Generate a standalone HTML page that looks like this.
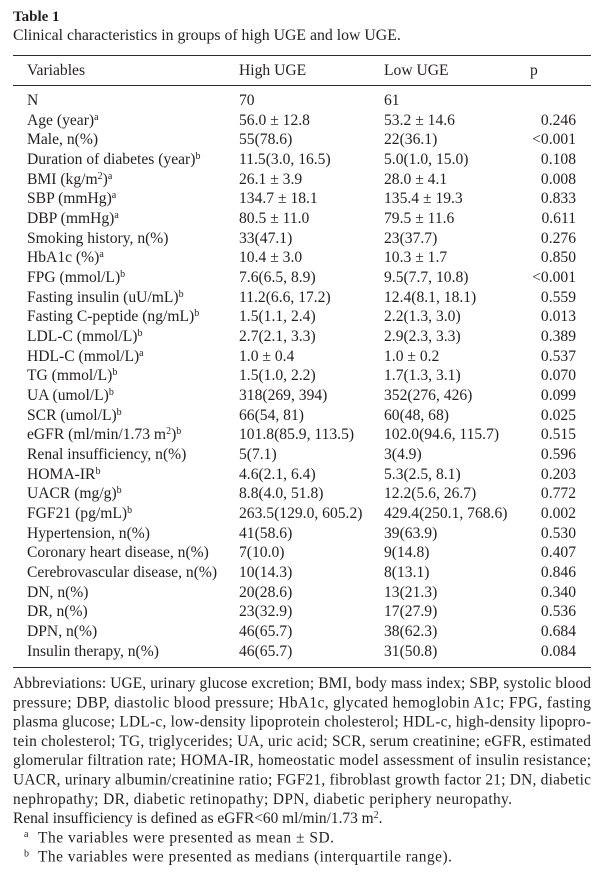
<!DOCTYPE html>
<html>
<head>
<meta charset="utf-8">
<style>
  html, body { margin:0; padding:0; background:#ffffff; }
  body { width:603px; height:878px; position:relative; overflow:hidden;
         font-family:"Liberation Serif", "DejaVu Serif", serif; color:#231f20; }
  .abs { position:absolute; white-space:nowrap; }
  .title { left:13px; top:7.4px; font-size:15px; font-weight:bold; line-height:20px; }
  .caption { left:13px; top:25.7px; font-size:15.8px; line-height:20px; }
  .rule { position:absolute; left:13px; width:578px; height:1.4px; background:#2b2b2b; }
  .hdr { top:60.7px; font-size:15.6px; line-height:20px; }
  .rows { position:absolute; left:0; top:90.9px; width:603px; }
  .row { position:relative; height:19.68px; line-height:19.68px; font-size:15.6px; white-space:nowrap; }
  .row span { position:absolute; top:0; }
  .c1 { left:27px; }
  .c2 { left:239px; }
  .c3 { left:384px; }
  .c4 { right:27px; text-align:right; }
  sup { font-size:10px; line-height:0; vertical-align:5px; }
  svg { position:absolute; left:0; top:0; }
  svg text { font-family:"Liberation Serif", "DejaVu Serif", serif; font-size:15.4px; fill:#231f20; }
</style>
</head>
<body>
<div class="abs title">Table 1</div>
<div class="abs caption">Clinical characteristics in groups of high UGE and low UGE.</div>

<div class="rule" style="top:54.5px;"></div>
<div class="abs hdr" style="left:27px;">Variables</div>
<div class="abs hdr" style="left:239px;">High UGE</div>
<div class="abs hdr" style="left:384px;">Low UGE</div>
<div class="abs hdr" style="left:530px;">p</div>
<div class="rule" style="top:84.5px;"></div>

<div class="rows">
  <div class="row"><span class="c1">N</span><span class="c2">70</span><span class="c3">61</span></div>
  <div class="row"><span class="c1">Age (year)<sup>a</sup></span><span class="c2">56.0 ± 12.8</span><span class="c3">53.2 ± 14.6</span><span class="c4">0.246</span></div>
  <div class="row"><span class="c1">Male, n(%)</span><span class="c2">55(78.6)</span><span class="c3">22(36.1)</span><span class="c4">&lt;0.001</span></div>
  <div class="row"><span class="c1">Duration of diabetes (year)<sup>b</sup></span><span class="c2">11.5(3.0, 16.5)</span><span class="c3">5.0(1.0, 15.0)</span><span class="c4">0.108</span></div>
  <div class="row"><span class="c1">BMI (kg/m<sup>2</sup>)<sup>a</sup></span><span class="c2">26.1 ± 3.9</span><span class="c3">28.0 ± 4.1</span><span class="c4">0.008</span></div>
  <div class="row"><span class="c1">SBP (mmHg)<sup>a</sup></span><span class="c2">134.7 ± 18.1</span><span class="c3">135.4 ± 19.3</span><span class="c4">0.833</span></div>
  <div class="row"><span class="c1">DBP (mmHg)<sup>a</sup></span><span class="c2">80.5 ± 11.0</span><span class="c3">79.5 ± 11.6</span><span class="c4">0.611</span></div>
  <div class="row"><span class="c1">Smoking history, n(%)</span><span class="c2">33(47.1)</span><span class="c3">23(37.7)</span><span class="c4">0.276</span></div>
  <div class="row"><span class="c1">HbA1c (%)<sup>a</sup></span><span class="c2">10.4 ± 3.0</span><span class="c3">10.3 ± 1.7</span><span class="c4">0.850</span></div>
  <div class="row"><span class="c1">FPG (mmol/L)<sup>b</sup></span><span class="c2">7.6(6.5, 8.9)</span><span class="c3">9.5(7.7, 10.8)</span><span class="c4">&lt;0.001</span></div>
  <div class="row"><span class="c1">Fasting insulin (uU/mL)<sup>b</sup></span><span class="c2">11.2(6.6, 17.2)</span><span class="c3">12.4(8.1, 18.1)</span><span class="c4">0.559</span></div>
  <div class="row"><span class="c1">Fasting C-peptide (ng/mL)<sup>b</sup></span><span class="c2">1.5(1.1, 2.4)</span><span class="c3">2.2(1.3, 3.0)</span><span class="c4">0.013</span></div>
  <div class="row"><span class="c1">LDL-C (mmol/L)<sup>b</sup></span><span class="c2">2.7(2.1, 3.3)</span><span class="c3">2.9(2.3, 3.3)</span><span class="c4">0.389</span></div>
  <div class="row"><span class="c1">HDL-C (mmol/L)<sup>a</sup></span><span class="c2">1.0 ± 0.4</span><span class="c3">1.0 ± 0.2</span><span class="c4">0.537</span></div>
  <div class="row"><span class="c1">TG (mmol/L)<sup>b</sup></span><span class="c2">1.5(1.0, 2.2)</span><span class="c3">1.7(1.3, 3.1)</span><span class="c4">0.070</span></div>
  <div class="row"><span class="c1">UA (umol/L)<sup>b</sup></span><span class="c2">318(269, 394)</span><span class="c3">352(276, 426)</span><span class="c4">0.099</span></div>
  <div class="row"><span class="c1">SCR (umol/L)<sup>b</sup></span><span class="c2">66(54, 81)</span><span class="c3">60(48, 68)</span><span class="c4">0.025</span></div>
  <div class="row"><span class="c1">eGFR (ml/min/1.73 m<sup>2</sup>)<sup>b</sup></span><span class="c2">101.8(85.9, 113.5)</span><span class="c3">102.0(94.6, 115.7)</span><span class="c4">0.515</span></div>
  <div class="row"><span class="c1">Renal insufficiency, n(%)</span><span class="c2">5(7.1)</span><span class="c3">3(4.9)</span><span class="c4">0.596</span></div>
  <div class="row"><span class="c1">HOMA-IR<sup>b</sup></span><span class="c2">4.6(2.1, 6.4)</span><span class="c3">5.3(2.5, 8.1)</span><span class="c4">0.203</span></div>
  <div class="row"><span class="c1">UACR (mg/g)<sup>b</sup></span><span class="c2">8.8(4.0, 51.8)</span><span class="c3">12.2(5.6, 26.7)</span><span class="c4">0.772</span></div>
  <div class="row"><span class="c1">FGF21 (pg/mL)<sup>b</sup></span><span class="c2">263.5(129.0, 605.2)</span><span class="c3">429.4(250.1, 768.6)</span><span class="c4">0.002</span></div>
  <div class="row"><span class="c1">Hypertension, n(%)</span><span class="c2">41(58.6)</span><span class="c3">39(63.9)</span><span class="c4">0.530</span></div>
  <div class="row"><span class="c1">Coronary heart disease, n(%)</span><span class="c2">7(10.0)</span><span class="c3">9(14.8)</span><span class="c4">0.407</span></div>
  <div class="row"><span class="c1">Cerebrovascular disease, n(%)</span><span class="c2">10(14.3)</span><span class="c3">8(13.1)</span><span class="c4">0.846</span></div>
  <div class="row"><span class="c1">DN, n(%)</span><span class="c2">20(28.6)</span><span class="c3">13(21.3)</span><span class="c4">0.340</span></div>
  <div class="row"><span class="c1">DR, n(%)</span><span class="c2">23(32.9)</span><span class="c3">17(27.9)</span><span class="c4">0.536</span></div>
  <div class="row"><span class="c1">DPN, n(%)</span><span class="c2">46(65.7)</span><span class="c3">38(62.3)</span><span class="c4">0.684</span></div>
  <div class="row"><span class="c1">Insulin therapy, n(%)</span><span class="c2">46(65.7)</span><span class="c3">31(50.8)</span><span class="c4">0.084</span></div>
</div>

<div class="rule" style="top:667px;"></div>

<svg width="603" height="878" viewBox="0 0 603 878" xmlns="http://www.w3.org/2000/svg">
  <text x="13" y="688" textLength="578" lengthAdjust="spacing">Abbreviations: UGE, urinary glucose excretion; BMI, body mass index; SBP, systolic blood</text>
  <text x="13" y="707.3" textLength="578" lengthAdjust="spacing">pressure; DBP, diastolic blood pressure; HbA1c, glycated hemoglobin A1c; FPG, fasting</text>
  <text x="13" y="726.6" textLength="578" lengthAdjust="spacing">plasma glucose; LDL-c, low-density lipoprotein cholesterol; HDL-c, high-density lipopro-</text>
  <text x="13" y="745.9" textLength="578" lengthAdjust="spacing">tein cholesterol; TG, triglycerides; UA, uric acid; SCR, serum creatinine; eGFR, estimated</text>
  <text x="13" y="765.2" textLength="578" lengthAdjust="spacing">glomerular filtration rate; HOMA-IR, homeostatic model assessment of insulin resistance;</text>
  <text x="13" y="784.5" textLength="578" lengthAdjust="spacing">UACR, urinary albumin/creatinine ratio; FGF21, fibroblast growth factor 21; DN, diabetic</text>
  <text x="13" y="803.8" textLength="499" lengthAdjust="spacing">nephropathy; DR, diabetic retinopathy; DPN, diabetic periphery neuropathy.</text>
  <text x="13" y="823.1">Renal insufficiency is defined as eGFR&lt;60 ml/min/1.73 m<tspan dy="-5" style="font-size:10px">2</tspan><tspan dy="5">.</tspan></text>
  <text x="24" y="837" style="font-size:10px">a</text>
  <text x="38" y="842.4" textLength="296" lengthAdjust="spacing">The variables were presented as mean ± SD.</text>
  <text x="24" y="856.5" style="font-size:10px">b</text>
  <text x="38" y="861.7" textLength="414" lengthAdjust="spacing">The variables were presented as medians (interquartile range).</text>
</svg>
</body>
</html>
